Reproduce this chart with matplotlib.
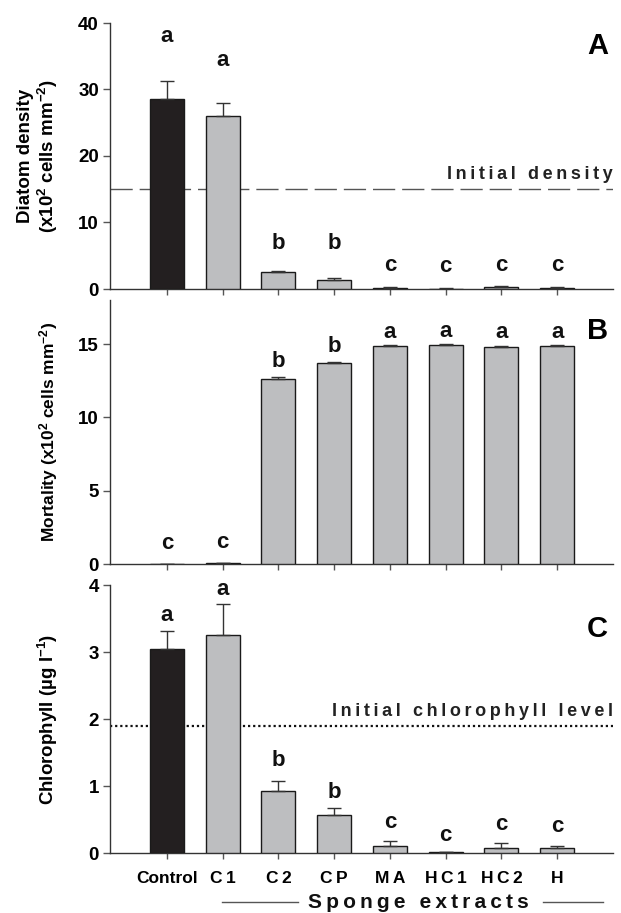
import matplotlib
matplotlib.use("Agg")
import matplotlib.pyplot as plt
import numpy as np

plt.rcParams['font.family'] = ['Liberation Sans', 'DejaVu Sans']
plt.rcParams['font.weight'] = 'bold'
plt.rcParams['mathtext.fontset'] = 'custom'
plt.rcParams['mathtext.rm'] = 'Liberation Sans:bold'
plt.rcParams['mathtext.bf'] = 'Liberation Sans:bold'
plt.rcParams['mathtext.default'] = 'rm'

# --- Datos ---
tratamientos = ['Control', 'C1', 'C2', 'CP', 'MA', 'HC1', 'HC2', 'H']

densidad = [28.5, 26.0, 2.5, 1.4, 0.2, 0.05, 0.3, 0.2]
densidad_err = [2.8, 1.9, 0.25, 0.2, 0.1, 0.05, 0.1, 0.1]
densidad_letras = ['a', 'a', 'b', 'b', 'c', 'c', 'c', 'c']
densidad_inicial = 15.0

mortalidad = [0.0, 0.05, 12.6, 13.7, 14.85, 14.95, 14.8, 14.85]
mortalidad_err = [0.0, 0.0, 0.12, 0.08, 0.08, 0.03, 0.06, 0.08]
mortalidad_letras = ['c', 'c', 'b', 'b', 'a', 'a', 'a', 'a']

clorofila = [3.05, 3.25, 0.93, 0.57, 0.10, 0.01, 0.08, 0.08]
clorofila_err = [0.26, 0.47, 0.14, 0.10, 0.08, 0.0, 0.07, 0.02]
clorofila_letras = ['a', 'a', 'b', 'b', 'c', 'c', 'c', 'c']
clorofila_inicial = 1.9

NEGRO = '#231f20'
GRIS = '#bdbec0'


def espaciar(s):
    # letras separadas como en la figura original
    palabras = s.split(' ')
    return '\u2009 \u2009'.join('\u2009'.join(p) for p in palabras)


fig = plt.figure(figsize=(6.21, 9.13), dpi=100)
izq, ancho = 110 / 621, 503 / 621
axA = fig.add_axes([izq, 624 / 913, ancho, 266 / 913])
axB = fig.add_axes([izq, 349 / 913, ancho, 264 / 913])
axC = fig.add_axes([izq, 60 / 913, ancho, 268 / 913])

x = np.arange(len(tratamientos))
colores = [NEGRO] + [GRIS] * (len(tratamientos) - 1)


def panel(ax, valores, errores, letras, pos_letras, ymax, yticks):
    ax.bar(x, valores, width=0.61, color=colores, edgecolor='#1a1a1a',
           linewidth=1.0, zorder=3)
    ax.errorbar(x, valores, yerr=[np.zeros(len(errores)), errores], fmt='none',
                ecolor='#333333', elinewidth=1.0, capsize=5, capthick=1.0, zorder=4)
    for xi, letra, yl in zip(x, letras, pos_letras):
        ax.text(xi, yl, letra, ha='center', va='center', fontsize=16,
                fontweight='bold', color='#111111', zorder=5)
    ax.set_xlim(-1.02, 8.0)
    ax.set_ylim(0, ymax)
    ax.set_yticks(yticks)
    ax.set_xticks(x)
    ax.spines['top'].set_visible(False)
    ax.spines['right'].set_visible(False)
    for sp in ['left', 'bottom']:
        ax.spines[sp].set_color('#333333')
        ax.spines[sp].set_linewidth(1.0)
    ax.tick_params(axis='y', direction='out', length=5, width=1, color='#555555',
                   labelsize=13.5, pad=3)
    ax.tick_params(axis='x', direction='out', length=4, width=1, color='#555555',
                   labelsize=12.5, pad=9)
    for lab in ax.get_yticklabels():
        lab.set_fontweight('bold')
    ax.yaxis.set_label_coords(-0.10, 0.5)


# --- Panel A ---
panel(axA, densidad, densidad_err, densidad_letras,
      [38.0, 34.4, 6.9, 6.9, 3.6, 3.4, 3.6, 3.6], 40, [0, 10, 20, 30, 40])
axA.axhline(densidad_inicial, color='#555555', lw=1.0, dashes=(16, 5), zorder=2)
axA.text(8.0, 16.6, espaciar('Initial density'), ha='right',
         va='baseline', fontsize=13, fontweight='bold', color='#222222')
axA.text(7.72, 36.5, 'A', ha='center', va='center', fontsize=21, fontweight='bold')
axA.set_ylabel('Diatom density\n(x10$^{2}$ cells mm$^{-2}$)', fontsize=13.5,
               fontweight='bold', linespacing=1.1)
axA.set_xticklabels([])

# --- Panel B ---
panel(axB, mortalidad, mortalidad_err, mortalidad_letras,
      [1.4, 1.5, 13.8, 14.8, 15.8, 15.85, 15.8, 15.8], 18, [0, 5, 10, 15])
axB.text(7.72, 15.9, 'B', ha='center', va='center', fontsize=21, fontweight='bold')
axB.set_ylabel('Mortality (x10$^{2}$ cells mm$^{-2}$)', fontsize=12.5,
               fontweight='bold')
axB.set_xticklabels([])

# --- Panel C ---
panel(axC, clorofila, clorofila_err, clorofila_letras,
      [3.55, 3.93, 1.38, 0.91, 0.46, 0.26, 0.43, 0.39], 4, [0, 1, 2, 3, 4])
axC.axhline(clorofila_inicial, color='#111111', lw=1.6, dashes=(1.0, 1.3), zorder=2)
axC.text(8.0, 1.98, espaciar('Initial chlorophyll level'), ha='right', va='bottom',
         fontsize=13, fontweight='bold', color='#222222')
axC.text(7.72, 3.35, 'C', ha='center', va='center', fontsize=21, fontweight='bold')
axC.set_ylabel('Chlorophyll (\u00b5g l$^{-1}$)', fontsize=13.5, fontweight='bold')
etiquetas = [tratamientos[0]] + [espaciar(t) for t in tratamientos[1:]]
axC.set_xticklabels(etiquetas, fontweight='bold')

# --- Sponge extracts ---
fig.text(418 / 621, 1 - 902 / 913, espaciar('Sponge extracts'),
         ha='center', va='center', fontsize=15, fontweight='bold', color='#111111')
fig.add_artist(plt.Line2D([222 / 621, 298 / 621], [1 - 902 / 913, 1 - 902 / 913],
                          color='#555555', lw=1.0))
fig.add_artist(plt.Line2D([543 / 621, 603 / 621], [1 - 902 / 913, 1 - 902 / 913],
                          color='#555555', lw=1.0))

fig.savefig('out.png', dpi=100)
